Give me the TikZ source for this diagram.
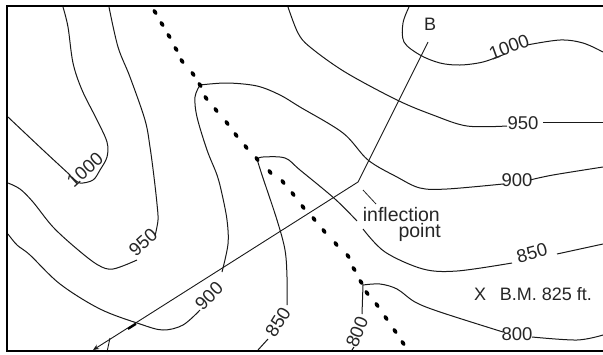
\documentclass[tikz,border=0pt]{standalone}
\usepackage{fontspec}
\setmainfont{Liberation Sans}
\usetikzlibrary{arrows.meta}
\tikzset{
  contour/.style={line width=1pt,line join=round,black!90},
  elev/.style={font=\fontsize{18.5}{20}\selectfont,inner sep=0pt,text=black!85},
  note/.style={font=\fontsize{18}{20}\selectfont,inner sep=0pt,text=black!85},
  bignote/.style={font=\fontsize{19.5}{20}\selectfont,inner sep=0pt,text=black!85},
  frameline/.style={line width=2.4pt,black},
}
\newcommand{\ctr}[1]{\draw[contour] plot[smooth,tension=0.55] coordinates {#1};}
\begin{document}
\begin{tikzpicture}[x=1pt,y=-1pt]
\useasboundingbox[fill=white] (0,0) rectangle (603,354);
% left 1000
\ctr{(63,7) (68,27) (73,63) (82,90) (97,120) (107,142) (107,157) (100,170) (93,180) (80,183) (72,177)}
\ctr{(8,117) (43,150) (70,175)}
% 950 left
\ctr{(109,7) (118,47) (130,77) (145,120) (150,147) (154,177) (157,204) (158,220) (155,236)}
\ctr{(137,260) (113,269) (98,265) (77,249) (53,227) (33,202) (20,189) (8,183)}
% 900 left and right
\ctr{(200,85) (195,97) (197,117) (207,150) (217,175) (222,194) (227,220) (228,244) (222,272)}
\ctr{(200,310) (183,325) (163,330) (140,324) (100,309) (60,284) (30,255) (17,245) (8,234)}
\ctr{(200,85) (227,83) (257,86) (280,95) (300,107) (343,133) (368,160) (397,177) (420,188) (447,189) (503,184)}
\ctr{(530,180) (553,175) (603,167)}
% 950 right
\ctr{(288,7) (298,33) (310,47) (345,72) (397,100) (433,115) (467,126) (507,126)}
\draw[contour] (543,122) -- (603,122);
% 1000 right
\ctr{(409,7) (403,23) (404,42) (420,55) (440,63) (460,65) (483,62) (505,54)}
\ctr{(527,45) (560,40) (583,43) (603,52)}
% 850
\ctr{(257,159) (262,175) (277,220) (285,250) (287,277) (287,305)}
\draw[contour] (268,339) -- (258,350);
\ctr{(257,159) (263,157) (285,158) (300,170) (335,199) (357,221)}
\ctr{(363,229) (385,252) (423,269) (457,271) (512,263)}
\ctr{(557,254) (580,249) (603,244)}
% 800
\ctr{(363,285) (362,314)}
\draw[contour] (354,347) -- (352,350);
\ctr{(363,285) (380,284) (397,289) (415,302) (440,312) (503,332)}
\ctr{(532,337) (577,340) (603,335)}
% labels
\node[elev,rotate=42] (l1000a) at (85,170) {1000};
\node[elev,rotate=42] (l950a) at (143,242) {950};
\node[elev,rotate=45] (l900a) at (209,296) {900};
\node[elev,rotate=58] (l850a) at (278,322) {850};
\node[elev,rotate=68] (l800a) at (357,332) {800};
\node[elev,rotate=20] (l1000b) at (509,47) {1000};
\node[elev] (l950b) at (523,123) {950};
\node[elev] (l900b) at (517,180) {900};
\node[elev,rotate=15] (l850b) at (532,253) {850};
\node[elev] (l800b) at (517,334) {800};
\node[note] (lB) at (430,24) {B};
\node[bignote,anchor=east] (linf) at (440,215) {inflection};
\node[bignote,anchor=east] (lpt) at (441,232) {point};
\node[note] (lx) at (480,294) {X};
\node[note,anchor=east] (lbm) at (592,294) {B.M. 825 ft.};
% profile line
\coordinate (pB) at (428,42);
\coordinate (pA) at (93,350);
\coordinate (pC) at (358,182);
\draw[line width=0.9pt,black!90,-{Stealth[length=6pt,width=5pt]}] (pB) -- (pC) -- (pA);
\draw[line width=2pt] (128,329) -- (136,324);
\draw[line width=0.9pt,black!90] (110,338) -- (107,352);
% leader
\draw[line width=0.8pt,black!85] (363,190) -- (376,204);
% crest dots
\foreach \p in {(155,12),(162,24),(169,36),(176,49),(182,61),(193,74),(200,85),(206,98),(216,110),(227,123),(236,135),(246,147),(257,159),(270,172),(283,182),(293,194),(303,207),(314,219),(324,231),(336,244),(348,256),(354,269),(361,282),(367,293),(377,305),(386,318),(395,331),(403,343)}
  \fill[black] \p ellipse[x radius=3.1pt,y radius=2pt,rotate=-55];
% frame
\draw[frameline] (603,6) -- (7,6) -- (7,351) -- (603,351);
\end{tikzpicture}
\end{document}
